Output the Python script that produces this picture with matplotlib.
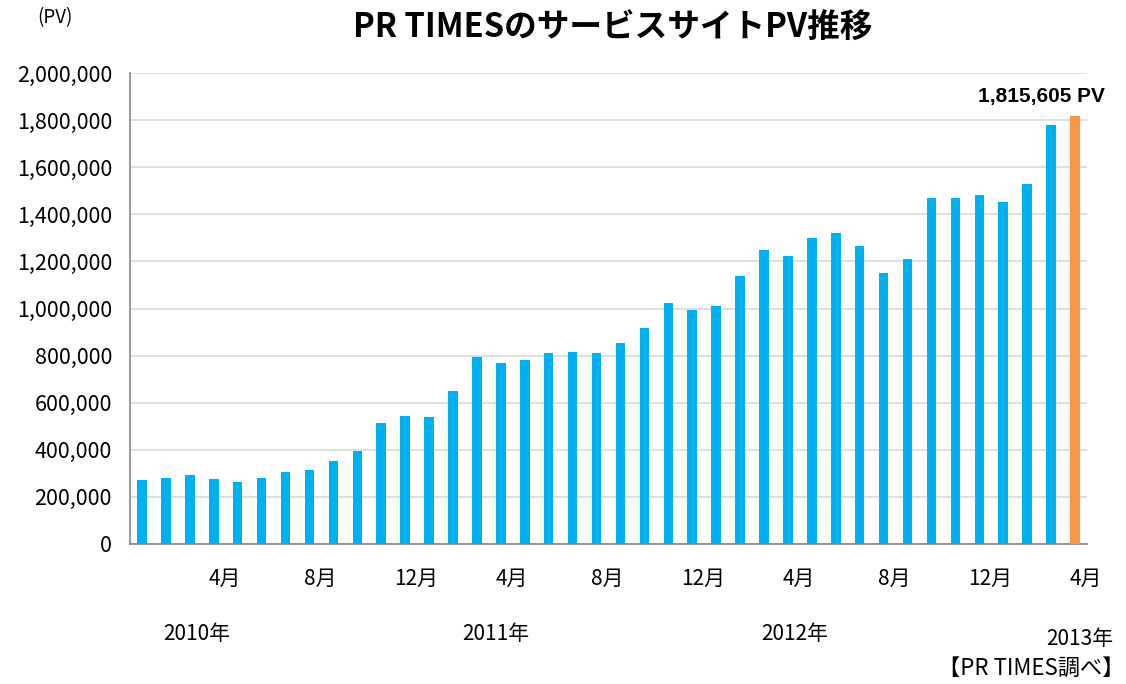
import matplotlib
matplotlib.use("Agg")
import matplotlib.pyplot as plt
from matplotlib.ticker import FuncFormatter


plt.rcParams["font.family"] = ["Noto Sans CJK JP", "DejaVu Sans"]

# monthly PV, Jan 2010 .. Apr 2013
pv_values = [
    271000, 280000, 293000, 276000, 263000, 280000, 304000, 315000, 351000, 396000, 512000, 545000,
    540000, 648000, 792000, 770000, 781000, 809000, 816000, 809000, 855000, 919000, 1023000, 994000,
    1011000, 1139000, 1247000, 1225000, 1299000, 1320000, 1264000, 1150000, 1212000, 1471000, 1471000, 1482000,
    1453000, 1528000, 1778000, 1815605,
]
month_ticks = [3, 7, 11, 15, 19, 23, 27, 31, 35, 39]
month_labels = ["4月", "8月", "12月", "4月", "8月", "12月", "4月", "8月", "12月", "4月"]
year_labels = ["2010年", "2011年", "2012年", "2013年"]
year_x = [2.3, 14.8, 27.3, 39.2]
highlight_label = "1,815,605 PV"


def main():
    
    fig = plt.figure(figsize=(11.26, 6.84), dpi=100)
    ax = fig.add_axes([130 / 1126, 1 - 544 / 684, 957 / 1126, 471 / 684])
    
    colors = ["#00B0F0"] * (len(pv_values) - 1) + ["#F79646"]
    ax.bar(range(len(pv_values)), pv_values, width=0.4, color=colors, zorder=3)
    
    ax.set_xlim(-0.5, len(pv_values) - 0.5)
    ax.set_ylim(0, 2000000)
    ax.set_yticks(range(0, 2000001, 200000))
    ax.yaxis.set_major_formatter(FuncFormatter(lambda v, _: f"{int(v):,}"))
    ax.grid(axis="y", color="#D9D9D9", linewidth=1.2, zorder=0)
    
    ax.set_xticks([t + 0.45 for t in month_ticks])
    ax.set_xticklabels(month_labels)
    ax.tick_params(axis="x", length=0, pad=17, labelsize=15)
    ax.tick_params(axis="y", length=0, pad=13, labelsize=15.5)
    
    for side in ["top", "right"]:
        
        ax.spines[side].set_visible(False)
    
    for side in ["left", "bottom"]:
        
        ax.spines[side].set_color("#868686")
        ax.spines[side].set_linewidth(1.2)
    
    for label, x in zip(year_labels, year_x):
        
        y_px = 639 if label == "2013年" else 634
        ax.text(x, -(y_px - 544) / 471, label, transform=ax.get_xaxis_transform(),
                ha="center", va="center", fontsize=15)
    
    ax.text(37.6, 1900000, highlight_label, ha="center", va="center", fontsize=15,
            fontweight="bold", family=["Liberation Sans", "DejaVu Sans"], color="black")
    
    fig.text(613 / 1126, 1 - 28 / 684, "PR TIMESのサービスサイトPV推移", ha="center", va="center",
             fontsize=23.5, fontweight="bold")
    fig.text(55 / 1126, 1 - 18 / 684, "(PV)", ha="center", va="center", fontsize=13.5)
    fig.text(1125 / 1126, 1 - 668 / 684, "【PR TIMES調べ】", ha="right", va="center", fontsize=16)
    
    fig.savefig("out.png", dpi=100)
    plt.close(fig)
    
    return


if __name__ == "__main__":
    
    main()
